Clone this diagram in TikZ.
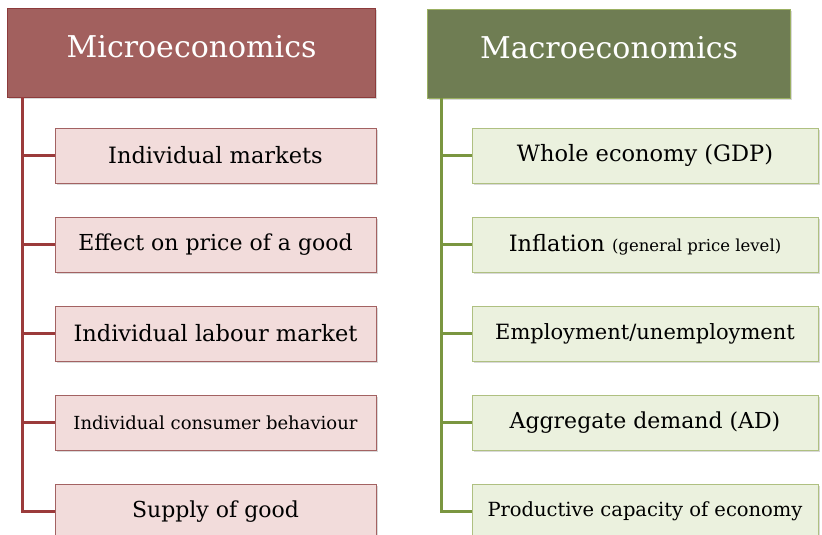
\documentclass[tikz,border=0pt]{standalone}
\usepackage{fontspec}
\setmainfont{DejaVu Serif}
\usetikzlibrary{positioning,shadows}

\definecolor{microhead}{HTML}{A2605E}
\definecolor{microedge}{HTML}{8C3B3B}
\definecolor{microfill}{HTML}{F2DCDB}
\definecolor{microline}{HTML}{9B3B3B}
\definecolor{macrohead}{HTML}{6F7D53}
\definecolor{macroedge}{HTML}{9BB062}
\definecolor{macrofill}{HTML}{EBF1DE}
\definecolor{macroline}{HTML}{7A9640}

\tikzset{
  headbox/.style={rectangle,draw,line width=1.2pt,text=white,
    minimum height=89pt,text depth=0pt,
    font=\fontsize{30}{33}\selectfont,
    drop shadow={opacity=0.3,shadow xshift=1.5pt,shadow yshift=-1.5pt}},
  itembox/.style={rectangle,draw,line width=1pt,minimum height=55pt,
    font=\fontsize{22.5}{26}\selectfont,
    drop shadow={opacity=0.3,shadow xshift=1.5pt,shadow yshift=-1.5pt}},
  microitem/.style={itembox,fill=microfill,draw=microedge!80,minimum width=321pt},
  macroitem/.style={itembox,fill=macrofill,draw=macroedge!80,minimum width=346pt},
  trunk/.style={line width=3pt}
}

\begin{document}
\begin{tikzpicture}[x=1pt,y=-1pt,node distance=89pt,on grid]
  \useasboundingbox (0,0) rectangle (822,535);
  \clip (0,0) rectangle (822,535);

  % left column
  \node[headbox,fill=microhead,draw=microedge,minimum width=368pt,
        anchor=north west] (micro) at (7,8) {\raisebox{14pt}{Microeconomics}};
  \node[microitem] (m1) at (215.5,155.5) {Individual markets};
  \node[microitem,font=\fontsize{22}{26}\selectfont] (m2) [below=of m1] {Effect on price of a good};
  \node[microitem] (m3) [below=of m2] {Individual labour market};
  \node[microitem,font=\fontsize{18}{21}\selectfont] (m4) [below=of m3] {Individual consumer behaviour};
  \node[microitem,font=\fontsize{22}{26}\selectfont] (m5) [below=of m4] {Supply of good};

  % right column
  \node[headbox,fill=macrohead,draw=macroedge,minimum width=363pt,
        anchor=north west] (macro) at (427,9) {\raisebox{14pt}{Macroeconomics}};
  \node[macroitem] (a1) at (645,155.5) {Whole economy (GDP)};
  \node[macroitem] (a2) [below=of a1] {Inflation {\fontsize{16.5}{19}\selectfont(general price level)}};
  \node[macroitem,font=\fontsize{21}{24}\selectfont] (a3) [below=of a2] {Employment/unemployment};
  \node[macroitem,font=\fontsize{22}{26}\selectfont] (a4) [below=of a3] {Aggregate demand (AD)};
  \node[macroitem,font=\fontsize{19.5}{22}\selectfont] (a5) [below=of a4] {Productive capacity of economy};

  % connectors
  \coordinate (mtop) at (22,97);
  \coordinate (atop) at (441,98);
  \draw[trunk,microline] (mtop) |- (m5.west);
  \draw[trunk,macroline] (atop) |- (a5.west);
  \foreach \i in {1,...,4} {
    \draw[trunk,microline] (m\i.west) -- (m\i.west -| mtop);
    \draw[trunk,macroline] (a\i.west) -- (a\i.west -| atop);
  }
\end{tikzpicture}
\end{document}
